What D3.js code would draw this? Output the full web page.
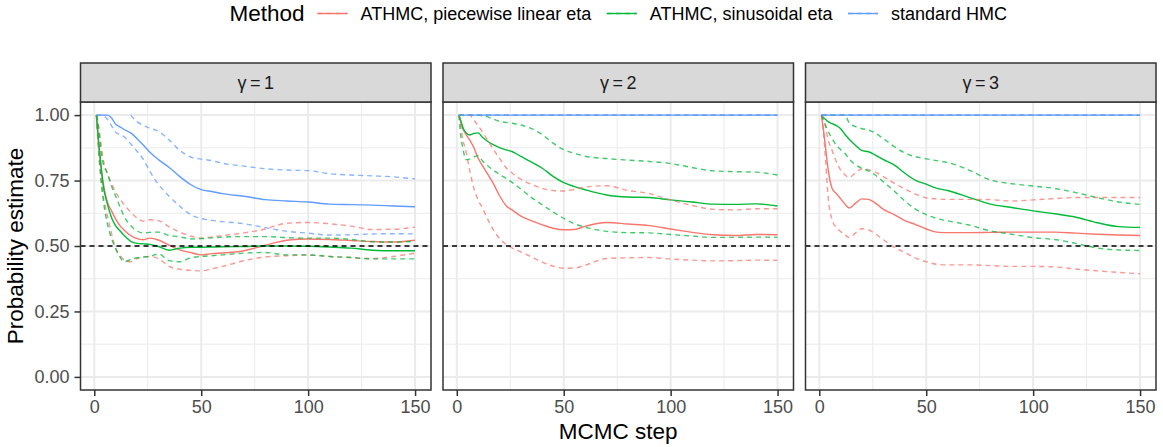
<!DOCTYPE html>
<html>
<head>
<meta charset="utf-8">
<script src="https://cdn.jsdelivr.net/npm/d3@7"></script>
<style>
    body { margin: 0; background: #fff; }
    text { font-family: "Liberation Sans", Arial, sans-serif; }
</style>
</head>
<body>
<div id="chart"></div>
<script>
// MCMC steps at which the estimates were read
const steps = [1, 2, 3, 4, 6, 8, 10, 12, 14, 17, 20, 23, 26, 30, 35, 40, 45, 50, 55, 60, 70, 80, 90, 100, 110, 120, 130, 140, 150];

const gammas = [1, 2, 3];
const methods = ['ATHMC, piecewise linear eta', 'ATHMC, sinusoidal eta', 'standard HMC'];
const methodColors = ['#F8766D', '#00BA38', '#619CFF'];
const xTicks = [0, 50, 100, 150];
const yTicks = [0, 0.25, 0.5, 0.75, 1];
const reference = 0.5;

// gamma = 1
const pw1Mid = [1.0, 0.89, 0.81, 0.75, 0.67, 0.635, 0.603, 0.578, 0.56, 0.54, 0.528, 0.524, 0.53, 0.523, 0.503, 0.485, 0.475, 0.466, 0.471, 0.473, 0.482, 0.503, 0.522, 0.527, 0.525, 0.521, 0.517, 0.515, 0.522];
const pw1Hi = [1.0, 0.96, 0.90, 0.84, 0.78, 0.74, 0.705, 0.68, 0.657, 0.63, 0.607, 0.595, 0.60, 0.597, 0.573, 0.553, 0.538, 0.53, 0.535, 0.54, 0.55, 0.565, 0.587, 0.59, 0.585, 0.576, 0.563, 0.564, 0.572];
const pw1Lo = [1.0, 0.86, 0.76, 0.70, 0.62, 0.55, 0.49, 0.465, 0.447, 0.44, 0.452, 0.458, 0.46, 0.452, 0.422, 0.411, 0.407, 0.405, 0.413, 0.422, 0.444, 0.458, 0.463, 0.465, 0.46, 0.456, 0.452, 0.46, 0.473];
const sin1Mid = [1.0, 0.90, 0.82, 0.74, 0.665, 0.61, 0.577, 0.558, 0.54, 0.518, 0.51, 0.508, 0.506, 0.498, 0.484, 0.492, 0.495, 0.495, 0.496, 0.497, 0.498, 0.50, 0.50, 0.499, 0.496, 0.492, 0.484, 0.482, 0.482];
const sin1Hi = [1.0, 0.95, 0.87, 0.82, 0.78, 0.73, 0.69, 0.65, 0.612, 0.578, 0.557, 0.55, 0.552, 0.553, 0.54, 0.535, 0.527, 0.528, 0.531, 0.534, 0.536, 0.536, 0.532, 0.53, 0.53, 0.525, 0.516, 0.515, 0.518];
const sin1Lo = [1.0, 0.88, 0.77, 0.69, 0.59, 0.53, 0.49, 0.458, 0.44, 0.448, 0.455, 0.458, 0.46, 0.47, 0.444, 0.44, 0.455, 0.46, 0.463, 0.466, 0.473, 0.475, 0.466, 0.466, 0.46, 0.456, 0.451, 0.451, 0.451];
const hmc1Mid = [1.0, 1.0, 1.0, 1.0, 1.0, 0.99, 0.965, 0.955, 0.945, 0.932, 0.91, 0.885, 0.858, 0.83, 0.80, 0.765, 0.735, 0.715, 0.708, 0.70, 0.69, 0.677, 0.672, 0.668, 0.66, 0.658, 0.656, 0.653, 0.65];
// upper band only drawn from step 17 on
const hmc1Hi = [null, null, null, null, null, null, null, null, null, 1.0, 0.975, 0.96, 0.95, 0.938, 0.905, 0.865, 0.84, 0.832, 0.826, 0.816, 0.805, 0.795, 0.79, 0.788, 0.776, 0.771, 0.768, 0.764, 0.756];
const hmc1Lo = [1.0, 1.0, 1.0, 1.0, 0.985, 0.96, 0.935, 0.925, 0.917, 0.89, 0.862, 0.83, 0.785, 0.735, 0.69, 0.652, 0.62, 0.605, 0.598, 0.593, 0.585, 0.57, 0.556, 0.549, 0.542, 0.543, 0.546, 0.547, 0.546];

// gamma = 2
const pw2Mid = [1.0, 0.97, 0.945, 0.93, 0.905, 0.875, 0.835, 0.807, 0.78, 0.74, 0.692, 0.655, 0.637, 0.614, 0.596, 0.581, 0.568, 0.562, 0.563, 0.575, 0.59, 0.584, 0.578, 0.565, 0.552, 0.543, 0.54, 0.544, 0.543];
const pw2Hi = [1.0, 1.0, 1.0, 1.0, 1.0, 0.98, 0.96, 0.935, 0.91, 0.87, 0.835, 0.80, 0.778, 0.755, 0.735, 0.72, 0.712, 0.71, 0.716, 0.725, 0.73, 0.712, 0.70, 0.676, 0.655, 0.64, 0.638, 0.642, 0.642];
const pw2Lo = [1.0, 0.95, 0.90, 0.873, 0.79, 0.72, 0.675, 0.645, 0.61, 0.563, 0.528, 0.507, 0.492, 0.477, 0.458, 0.438, 0.423, 0.415, 0.416, 0.427, 0.452, 0.455, 0.456, 0.45, 0.446, 0.443, 0.444, 0.446, 0.445];
const sin2Mid = [1.0, 0.975, 0.95, 0.936, 0.924, 0.93, 0.932, 0.915, 0.902, 0.887, 0.876, 0.867, 0.86, 0.842, 0.82, 0.797, 0.766, 0.742, 0.727, 0.715, 0.695, 0.687, 0.685, 0.676, 0.668, 0.66, 0.659, 0.661, 0.653];
const sin2Hi = [1.0, 1.0, 1.0, 1.0, 1.0, 1.0, 1.0, 0.997, 0.994, 0.985, 0.976, 0.972, 0.969, 0.962, 0.948, 0.925, 0.893, 0.868, 0.854, 0.843, 0.834, 0.828, 0.823, 0.815, 0.80, 0.787, 0.784, 0.782, 0.771];
const sin2Lo = [1.0, 0.91, 0.87, 0.83, 0.832, 0.84, 0.845, 0.825, 0.81, 0.79, 0.773, 0.758, 0.742, 0.717, 0.685, 0.657, 0.63, 0.606, 0.585, 0.572, 0.556, 0.551, 0.55, 0.544, 0.538, 0.533, 0.533, 0.534, 0.533];
const hmc2Mid = [1, 1, 1, 1, 1, 1, 1, 1, 1, 1, 1, 1, 1, 1, 1, 1, 1, 1, 1, 1, 1, 1, 1, 1, 1, 1, 1, 1, 1];
const hmc2Hi = [1, 1, 1, 1, 1, 1, 1, 1, 1, 1, 1, 1, 1, 1, 1, 1, 1, 1, 1, 1, 1, 1, 1, 1, 1, 1, 1, 1, 1];
const hmc2Lo = [1, 1, 1, 1, 1, 1, 1, 1, 1, 1, 1, 1, 1, 1, 1, 1, 1, 1, 1, 1, 1, 1, 1, 1, 1, 1, 1, 1, 1];

// gamma = 3
const pw3Mid = [1.0, 0.94, 0.87, 0.80, 0.72, 0.70, 0.68, 0.66, 0.645, 0.664, 0.68, 0.678, 0.665, 0.64, 0.62, 0.597, 0.582, 0.565, 0.553, 0.551, 0.551, 0.552, 0.553, 0.553, 0.553, 0.549, 0.545, 0.542, 0.54];
const pw3Hi = [1.0, 0.985, 0.95, 0.91, 0.865, 0.822, 0.79, 0.772, 0.762, 0.78, 0.795, 0.791, 0.783, 0.765, 0.74, 0.718, 0.698, 0.684, 0.68, 0.678, 0.678, 0.677, 0.672, 0.676, 0.681, 0.685, 0.685, 0.685, 0.685];
const pw3Lo = [1.0, 0.93, 0.82, 0.70, 0.60, 0.57, 0.555, 0.543, 0.532, 0.55, 0.566, 0.562, 0.548, 0.524, 0.495, 0.475, 0.454, 0.44, 0.43, 0.428, 0.428, 0.425, 0.422, 0.422, 0.42, 0.412, 0.405, 0.399, 0.394];
const sin3Mid = [1.0, 0.99, 0.983, 0.976, 0.967, 0.96, 0.948, 0.926, 0.908, 0.884, 0.864, 0.86, 0.848, 0.83, 0.81, 0.778, 0.751, 0.736, 0.72, 0.712, 0.686, 0.66, 0.647, 0.634, 0.623, 0.61, 0.589, 0.574, 0.571];
const sin3Hi = [1.0, 1.0, 1.0, 1.0, 1.0, 1.0, 1.0, 1.0, 0.97, 0.956, 0.948, 0.943, 0.932, 0.91, 0.88, 0.855, 0.841, 0.833, 0.826, 0.819, 0.79, 0.752, 0.738, 0.729, 0.72, 0.704, 0.685, 0.668, 0.659];
const sin3Lo = [1.0, 0.98, 0.96, 0.94, 0.91, 0.885, 0.868, 0.854, 0.832, 0.81, 0.797, 0.787, 0.772, 0.745, 0.71, 0.672, 0.641, 0.62, 0.605, 0.596, 0.58, 0.558, 0.545, 0.532, 0.525, 0.51, 0.492, 0.485, 0.483];
const hmc3Mid = [1, 1, 1, 1, 1, 1, 1, 1, 1, 1, 1, 1, 1, 1, 1, 1, 1, 1, 1, 1, 1, 1, 1, 1, 1, 1, 1, 1, 1];
const hmc3Hi = [1, 1, 1, 1, 1, 1, 1, 1, 1, 1, 1, 1, 1, 1, 1, 1, 1, 1, 1, 1, 1, 1, 1, 1, 1, 1, 1, 1, 1];
const hmc3Lo = [1, 1, 1, 1, 1, 1, 1, 1, 1, 1, 1, 1, 1, 1, 1, 1, 1, 1, 1, 1, 1, 1, 1, 1, 1, 1, 1, 1, 1];

// one entry per panel, methods in legend order
const panelSeries = [
    [[pw1Mid, pw1Lo, pw1Hi], [sin1Mid, sin1Lo, sin1Hi], [hmc1Mid, hmc1Lo, hmc1Hi]],
    [[pw2Mid, pw2Lo, pw2Hi], [sin2Mid, sin2Lo, sin2Hi], [hmc2Mid, hmc2Lo, hmc2Hi]],
    [[pw3Mid, pw3Lo, pw3Hi], [sin3Mid, sin3Lo, sin3Hi], [hmc3Mid, hmc3Lo, hmc3Hi]]
];

let width = 1163,
    height = 447,
    stripTop = 63,
    stripHeight = 39,
    panelHeight = 288,
    panelLeft = 80.5,
    panelWidth = 350.5,
    panelGap = 12,
    panelTop = stripTop + stripHeight,
    smallFont = 18,
    titleFont = 22.5,
    gridColor = '#EBEBEB',
    inkColor = '#333333';

let svg = d3.select('#chart').append('svg')
    .attr('width', width)
    .attr('height', height);

// ggplot style 5% expansion on both axes
let xMin = d3.min(steps), xMax = d3.max(steps), xPad = (xMax - xMin) * 0.05;
let scaleX = d3.scaleLinear().domain([xMin - xPad, xMax + xPad]).range([0, panelWidth]);
let scaleY = d3.scaleLinear().domain([-0.05, 1.05]).range([panelHeight, 0]);

let line = d3.line()
    .defined((d) => d !== null)
    .x((d, i) => scaleX(steps[i]))
    .y((d) => scaleY(d))
    .curve(d3.curveMonotoneX);

let xMinor = xTicks.slice(1).map((t, i) => (t + xTicks[i]) / 2);
let yMinor = yTicks.slice(1).map((t, i) => (t + yTicks[i]) / 2);

gammas.forEach((gamma, p) => {
    let g = svg.append('g')
        .attr('transform', `translate(${panelLeft + p * (panelWidth + panelGap)}, ${panelTop})`);

    // grid
    g.selectAll('.minor-x').data(xMinor).enter().append('line')
        .attr('x1', scaleX).attr('x2', scaleX).attr('y1', 0).attr('y2', panelHeight)
        .attr('stroke', gridColor).attr('stroke-width', 1);
    g.selectAll('.minor-y').data(yMinor).enter().append('line')
        .attr('y1', scaleY).attr('y2', scaleY).attr('x1', 0).attr('x2', panelWidth)
        .attr('stroke', gridColor).attr('stroke-width', 1);
    g.selectAll('.major-x').data(xTicks).enter().append('line')
        .attr('x1', scaleX).attr('x2', scaleX).attr('y1', 0).attr('y2', panelHeight)
        .attr('stroke', gridColor).attr('stroke-width', 2);
    g.selectAll('.major-y').data(yTicks).enter().append('line')
        .attr('y1', scaleY).attr('y2', scaleY).attr('x1', 0).attr('x2', panelWidth)
        .attr('stroke', gridColor).attr('stroke-width', 2);

    // estimate lines, then the dashed bands
    let series = panelSeries[p];
    series.forEach((s, m) => {
        g.append('path')
            .attr('d', line(s[0]))
            .attr('fill', 'none')
            .attr('stroke', methodColors[m])
            .attr('stroke-width', 1.4);
    });
    series.forEach((s, m) => {
        [s[1], s[2]].forEach((band) => {
            g.append('path')
                .attr('d', line(band))
                .attr('fill', 'none')
                .attr('stroke', methodColors[m])
                .attr('stroke-opacity', 0.75)
                .attr('stroke-width', 1.4)
                .attr('stroke-dasharray', '5,4');
        });
    });

    g.append('line')
        .attr('x1', 0).attr('x2', panelWidth)
        .attr('y1', scaleY(reference)).attr('y2', scaleY(reference))
        .attr('stroke', '#000')
        .attr('stroke-width', 1.4)
        .attr('stroke-dasharray', '5,4');

    g.append('rect')
        .attr('width', panelWidth).attr('height', panelHeight)
        .attr('fill', 'none').attr('stroke', inkColor).attr('stroke-width', 1.5);

    // strip
    g.append('rect')
        .attr('y', -stripHeight).attr('width', panelWidth).attr('height', stripHeight)
        .attr('fill', '#D9D9D9').attr('stroke', inkColor).attr('stroke-width', 1.5);
    g.append('text')
        .attr('x', panelWidth / 2).attr('y', -stripHeight / 2)
        .attr('dy', '0.35em')
        .attr('text-anchor', 'middle')
        .attr('font-size', smallFont)
        .attr('fill', '#1A1A1A')
        .text(`\u03B3\u2009=\u2009${gamma}`);

    // axes
    let xAxis = g.append('g')
        .attr('transform', `translate(0, ${panelHeight})`)
        .call(d3.axisBottom(scaleX).tickValues(xTicks).tickSize(6).tickPadding(4));
    xAxis.select('.domain').remove();
    xAxis.selectAll('line').attr('stroke', inkColor).attr('stroke-width', 1.5);
    xAxis.selectAll('text').attr('font-size', smallFont).attr('fill', '#4D4D4D')
        .style('font-family', '"Liberation Sans", Arial, sans-serif');

    if (p === 0) {
        let yAxis = g.append('g')
            .call(d3.axisLeft(scaleY).tickValues(yTicks).tickFormat(d3.format('.2f')).tickSize(6).tickPadding(5));
        yAxis.select('.domain').remove();
        yAxis.selectAll('line').attr('stroke', inkColor).attr('stroke-width', 1.5);
        yAxis.selectAll('text').attr('font-size', smallFont).attr('fill', '#4D4D4D')
            .style('font-family', '"Liberation Sans", Arial, sans-serif');
    }
});

let plotCenter = panelLeft + (3 * panelWidth + 2 * panelGap) / 2;

svg.append('text')
    .attr('x', plotCenter).attr('y', 439)
    .attr('text-anchor', 'middle')
    .attr('font-size', titleFont)
    .text('MCMC step');

svg.append('text')
    .attr('transform', `translate(23, ${panelTop + panelHeight / 2}) rotate(-90)`)
    .attr('text-anchor', 'middle')
    .attr('font-size', titleFont)
    .text('Probability estimate');

// legend, laid out left to right and centred over the panels
let legend = svg.append('g');
let cursor = 0;
legend.append('text')
    .attr('x', 0).attr('y', 21)
    .attr('font-size', titleFont)
    .text('Method');
cursor = legend.select('text').node().getComputedTextLength() + 13;

methods.forEach((name, m) => {
    legend.append('line')
        .attr('x1', cursor).attr('x2', cursor + 30)
        .attr('y1', 13.5).attr('y2', 13.5)
        .attr('stroke', methodColors[m]).attr('stroke-width', 1.4);
    legend.append('line')
        .attr('x1', cursor).attr('x2', cursor + 30)
        .attr('y1', 13.5).attr('y2', 13.5)
        .attr('stroke', methodColors[m]).attr('stroke-opacity', 0.75)
        .attr('stroke-width', 1.4).attr('stroke-dasharray', '5,4');
    let label = legend.append('text')
        .attr('x', cursor + 43).attr('y', 19.8)
        .attr('font-size', smallFont)
        .text(name);
    cursor += 43 + label.node().getComputedTextLength() + 15.5;
});
cursor -= 15.5;
legend.attr('transform', `translate(${plotCenter - cursor / 2}, 0)`);
</script>
</body>
</html>
